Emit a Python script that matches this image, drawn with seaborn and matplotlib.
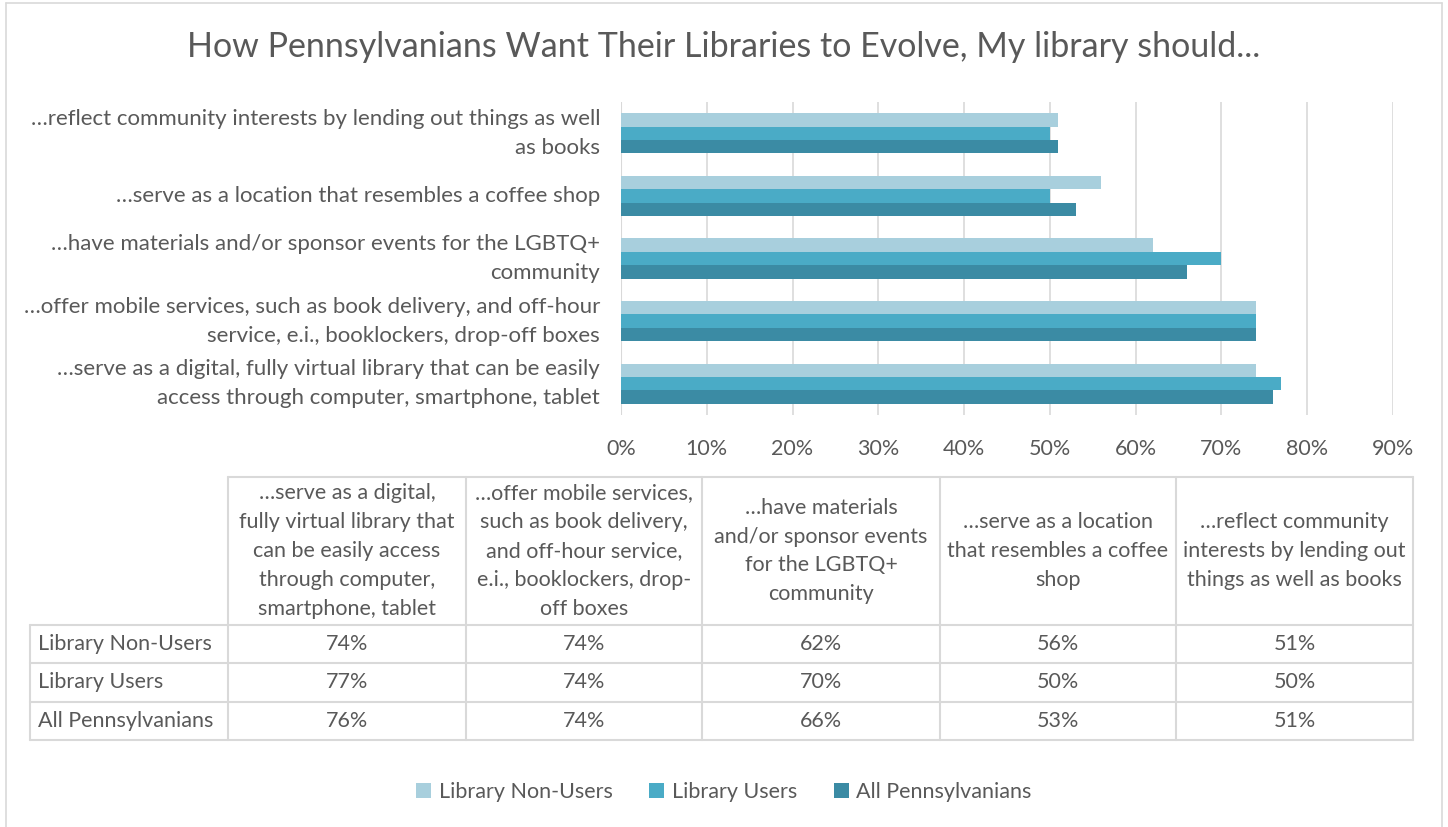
import matplotlib
matplotlib.use("Agg")
import matplotlib.pyplot as plt
import seaborn as sns
import pandas as pd
import numpy as np
from matplotlib.patches import Patch

categories = [
    "…serve as a digital, fully virtual library that can be easily access through computer, smartphone, tablet",
    "…offer mobile services, such as book delivery, and off-hour service, e.i., booklockers, drop-off boxes",
    "…have materials and/or sponsor events for the LGBTQ+ community",
    "…serve as a location that resembles a coffee shop",
    "…reflect community interests by lending out things as well as books",
]
axis_labels = [
    "…serve as a digital, fully virtual library that can be easily\naccess through computer, smartphone, tablet",
    "…offer mobile services, such as book delivery, and off-hour\nservice, e.i., booklockers, drop-off boxes",
    "…have materials and/or sponsor events for the LGBTQ+\ncommunity",
    "…serve as a location that resembles a coffee shop",
    "…reflect community interests by lending out things as well\nas books",
]
table_headers = [
    "…serve as a digital,\nfully virtual library that\ncan be easily access\nthrough computer,\nsmartphone, tablet",
    "…offer mobile services,\nsuch as book delivery,\nand off-hour service,\ne.i., booklockers, drop-\noff boxes",
    "…have materials\nand/or sponsor events\nfor the LGBTQ+\ncommunity",
    "…serve as a location\nthat resembles a coffee\nshop",
    "…reflect community\ninterests by lending out\nthings as well as books",
]
series = ["Library Non-Users", "Library Users", "All Pennsylvanians"]
non_users = [74, 74, 62, 56, 51]
users = [77, 74, 70, 50, 50]
all_pa = [76, 74, 66, 53, 51]
colors = ["#A8CFDD", "#4AABC6", "#3B8BA4"]
xticks = [0, 10, 20, 30, 40, 50, 60, 70, 80, 90]

TXT = "#595959"
FONT = "Lato"
FS = 15.5

rows = []
for s, vals in zip(series, [non_users, users, all_pa]):
    for c, v in zip(categories, vals):
        rows.append({"cat": c, "series": s, "value": v / 100})
df = pd.DataFrame(rows)

sns.set_theme(style="white")
plt.rcParams["font.family"] = [FONT, "DejaVu Sans"]

W, H = 1448, 827
fig = plt.figure(figsize=(W / 100, H / 100), dpi=100)

def fx(px):
    return px / W

def fy(py):
    return 1 - py / H

# axes
ax_l, ax_r, ax_t, ax_b = 621, 1393, 102, 415
ax = fig.add_axes([fx(ax_l), fy(ax_b), fx(ax_r - ax_l), (ax_b - ax_t) / H])
order = categories[::-1]
sns.barplot(data=df, y="cat", x="value", hue="series", order=order,
            hue_order=series, palette=colors, orient="h", width=0.64,
            saturation=1, ax=ax, legend=False, edgecolor="none")
ax.set_xlim(0, 0.9)
ax.set_xticks([t / 100 for t in xticks])
ax.set_xticklabels([f"{t}%" for t in xticks], color=TXT, fontsize=FS)
ax.set_yticks(range(len(order)))
ax.set_yticklabels(axis_labels[::-1], color=TXT, fontsize=16, ha="right",
                   va="center", linespacing=1.55)
ax.tick_params(axis="x", length=0, pad=17)
ax.tick_params(axis="y", length=0, pad=15)
ax.set_xlabel("")
ax.set_ylabel("")
for sp in ax.spines.values():
    sp.set_visible(False)
ax.grid(axis="x", color="#D9D9D9", linewidth=1.2)
ax.set_axisbelow(True)
ax.axvline(0, color="#D9D9D9", linewidth=1.5, zorder=0)

# title
fig.text(0.5, fy(47), "How Pennsylvanians Want Their Libraries to Evolve, My library should...",
         ha="center", va="center", fontsize=24.5, color=TXT)

# data table
col_x = [30, 228, 466, 702, 940, 1176, 1413]
row_y = [477, 625, 663, 702, 740]
lc = "#D9D9D9"
lw = 1.5
fig.add_artist(plt.Line2D([fx(col_x[1]), fx(col_x[-1])], [fy(row_y[0])] * 2, color=lc, lw=lw))
for yy in row_y[1:]:
    fig.add_artist(plt.Line2D([fx(col_x[0]), fx(col_x[-1])], [fy(yy)] * 2, color=lc, lw=lw))
fig.add_artist(plt.Line2D([fx(col_x[0])] * 2, [fy(row_y[1]), fy(row_y[-1])], color=lc, lw=lw))
for xx in col_x[1:]:
    fig.add_artist(plt.Line2D([fx(xx)] * 2, [fy(row_y[0]), fy(row_y[-1])], color=lc, lw=lw))

for j, h in enumerate(table_headers):
    cx = (col_x[j + 1] + col_x[j + 2]) / 2
    fig.text(fx(cx), fy((row_y[0] + row_y[1]) / 2), h, ha="center", va="center",
             fontsize=FS, color=TXT, linespacing=1.56)

for i, (s, vals) in enumerate(zip(series, [non_users, users, all_pa])):
    cy = (row_y[i + 1] + row_y[i + 2]) / 2
    fig.text(fx(col_x[0] + 8), fy(cy), s, ha="left", va="center", fontsize=FS, color=TXT)
    for j, v in enumerate(vals):
        cx = (col_x[j + 1] + col_x[j + 2]) / 2
        fig.text(fx(cx), fy(cy), f"{v}%", ha="center", va="center", fontsize=FS, color=TXT)

# legend
handles = [Patch(facecolor=c, edgecolor="none", label=s) for s, c in zip(series, colors)]
fig.legend(handles=handles, loc="center", bbox_to_anchor=(0.5, fy(792)), ncol=3,
           frameon=False, fontsize=FS, labelcolor=TXT, handlelength=0.7,
           handleheight=0.7, handletextpad=0.35, columnspacing=1.7)

# chart border (left, top, right; bottom edge lies outside the picture)
bc = "#D9D9D9"
fig.add_artist(plt.Line2D([fx(6), fx(6)], [fy(3), 0], color=bc, lw=1.2))
fig.add_artist(plt.Line2D([fx(6), fx(1442)], [fy(3), fy(3)], color=bc, lw=1.2))
fig.add_artist(plt.Line2D([fx(1442), fx(1442)], [fy(3), 0], color=bc, lw=1.2))

fig.savefig("out.png", dpi=100)
